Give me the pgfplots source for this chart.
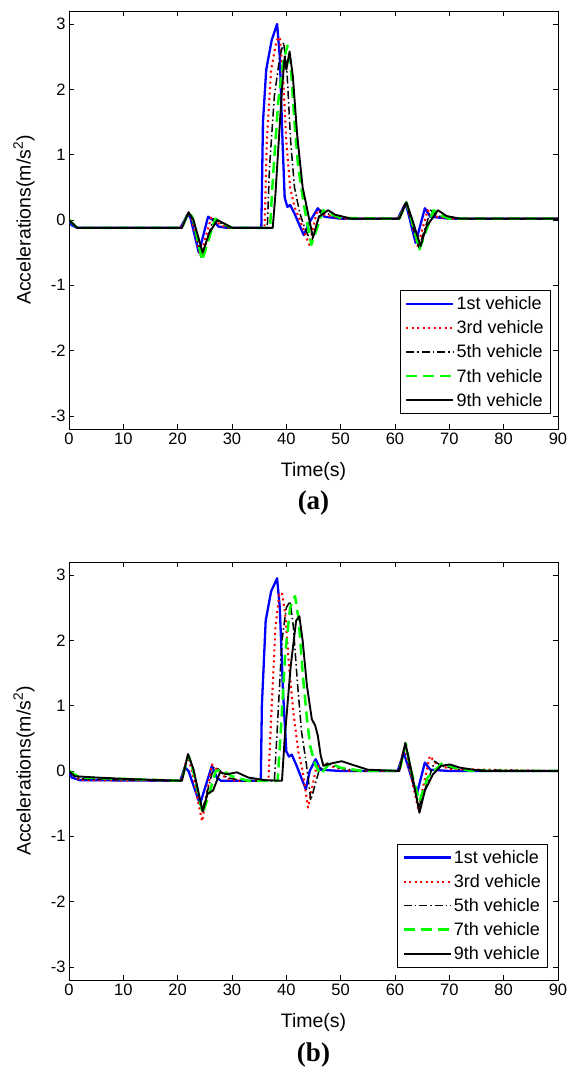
\documentclass[border=0pt]{standalone}
\usepackage{fontspec}
\setmainfont{Liberation Sans}
\newfontfamily\timesbf{Liberation Serif}
\usepackage{pgfplots}
\pgfplotsset{compat=1.18}
\definecolor{mblue}{RGB}{0,0,255}
\definecolor{mred}{RGB}{255,0,0}
\definecolor{mgreen}{RGB}{0,255,0}

\pgfplotsset{
  myax/.style={
    width=489pt, height=418pt, scale only axis,
    xmin=0, xmax=90, ymin=-3.2, ymax=3.2,
    xtick={0,10,...,90}, ytick={-3,-2,-1,0,1,2,3},
    tick align=inside, major tick length=5pt,
    axis line style={line width=0.8pt},
    every tick/.style={black, line width=0.6pt},
    tick label style={font=\fontsize{16.5}{18}\selectfont},
    /pgf/number format/assume math mode=true,
    xlabel={Time(s)}, ylabel={Accelerations(m/s\textsuperscript{2})},
    every axis x label/.style={at={(axis description cs:0.5,-0.1005)}, anchor=center, font=\fontsize{19.5}{22}\selectfont},
    every axis y label/.style={at={(axis description cs:-0.092,0.5)}, rotate=90, anchor=center, font=\fontsize{19.5}{22}\selectfont},
    legend style={draw=black, line width=0.8pt, font=\fontsize{18}{20}\selectfont, anchor=south east, inner xsep=5pt, inner ysep=4pt, row sep=5.5pt},
    legend cell align=left,
    legend image code/.code={\draw[#1] (0pt,0pt) -- (47pt,0pt);},
    line join=round,
  },
  v1/.style={color=mblue, line width=2.3pt, solid},
  v3/.style={color=mred, line width=2.1pt, dash pattern=on 2pt off 3.5pt},
  v5/.style={color=black, line width=1.5pt, dash pattern=on 8pt off 3pt on 1.5pt off 3pt},
  v7/.style={color=mgreen, line width=2.5pt, dash pattern=on 11pt off 6pt},
  v9/.style={color=black, line width=1.9pt, solid},
}

\begin{document}
\begin{tikzpicture}
\useasboundingbox (0,0) rectangle (567pt,1072pt);
% ---------------- (a) ----------------
\begin{axis}[myax, name=top, at={(69pt,643pt)}, anchor=south west,
  legend style={at={(0.986,0.036)}}]
\addplot[v1] coordinates {(0,0) (0.5,-0.08) (1.5,-0.12) (20.5,-0.12) (21.8,0.08) (22.3,0.05) (23.9,-0.5) (25.6,0.05) (26.5,0.0) (27.5,-0.1) (29,-0.12) (35.4,-0.12) (35.7,1.5) (36.3,2.3) (37.3,2.75) (38.3,3.0) (38.8,2.5) (39.3,1.2) (39.7,0.34) (40.2,0.2) (40.7,0.23) (41.5,0.1) (43.2,-0.23) (44.5,0.0) (45.8,0.18) (47,0.05) (50,0.02) (60.5,0.02) (61.9,0.25) (62.3,0.15) (63.8,-0.35) (65.5,0.18) (66.5,0.05) (70,0.02) (90,0.02)};
\addlegendentry{1st vehicle}
\addplot[v3] coordinates {(0,0) (1.5,-0.12) (20.6,-0.12) (21.9,0.1) (22.5,0.05) (24.2,-0.55) (26.2,0.05) (27.5,-0.05) (29,-0.12) (36,-0.12) (36.4,1.2) (37.2,2.3) (38.2,2.75) (38.8,2.8) (39.4,2.2) (40.0,1.2) (40.7,0.5) (41.5,0.2) (42.5,0.0) (44.2,-0.38) (45.7,0.15) (47,0.08) (50,0.02) (60.6,0.02) (62,0.27) (62.6,0.1) (64.2,-0.4) (66,0.15) (67,0.06) (70,0.02) (90,0.02)};
\addlegendentry{3rd vehicle}
\addplot[v5] coordinates {(0,0) (1.5,-0.12) (20.7,-0.12) (22,0.1) (22.7,0.05) (24.4,-0.58) (26.6,0.02) (28,-0.05) (29.5,-0.12) (36.5,-0.12) (36.9,0.8) (37.8,1.9) (38.8,2.5) (39.5,2.72) (40.1,2.3) (40.8,1.2) (41.5,0.5) (42.5,0.1) (43.3,-0.1) (44.6,-0.35) (46.3,0.15) (47.5,0.1) (50,0.02) (60.7,0.02) (62,0.27) (62.8,0.05) (64.4,-0.42) (66.6,0.15) (67.6,0.07) (70,0.02) (90,0.02)};
\addlegendentry{5th vehicle}
\addplot[v7] coordinates {(0,0) (1.5,-0.12) (20.8,-0.12) (22,0.12) (22.8,0.03) (24.5,-0.62) (26.9,0.02) (28.5,-0.06) (30,-0.12) (37,-0.12) (37.5,0.6) (38.5,1.8) (39.4,2.4) (40.2,2.67) (40.8,2.4) (41.5,1.5) (42.2,0.8) (43.3,0.2) (44.6,-0.38) (46.8,0.15) (48,0.1) (50,0.03) (60.8,0.02) (62.1,0.27) (63,0.02) (64.5,-0.45) (67.1,0.15) (68.2,0.08) (70,0.02) (90,0.02)};
\addlegendentry{7th vehicle}
\addplot[v9] coordinates {(0,0) (1.5,-0.12) (20.8,-0.12) (22,0.12) (22.9,0.0) (24.6,-0.5) (25.8,-0.2) (27.3,0.0) (28.5,-0.05) (30,-0.12) (37.5,-0.12) (38,0.4) (39.2,2.0) (39.7,2.5) (40.0,2.3) (40.6,2.58) (41.2,2.2) (42,1.3) (43.0,0.5) (43.8,0.18) (44.9,-0.27) (46.0,0.05) (47.7,0.15) (49,0.08) (52,0.02) (60.8,0.02) (62.1,0.27) (63.2,0.0) (64.7,-0.4) (65.8,-0.1) (67.9,0.15) (69.5,0.06) (72,0.02) (90,0.02)};
\addlegendentry{9th vehicle}
\end{axis}
\path (top.south) ++(0,-74pt) node[font=\fontsize{27}{30}\timesbf\bfseries] {(a)};
% ---------------- (b) ----------------
\begin{axis}[myax, name=bot, at={(69pt,92pt)}, anchor=south west,
  legend style={at={(0.980,0.030)}}]
\addplot[v1] coordinates {(0,0) (0.5,-0.1) (2,-0.14) (20.5,-0.15) (21.3,0.06) (22,0.0) (24.1,-0.51) (26.3,0.08) (27.2,-0.1) (28,-0.15) (35.3,-0.15) (35.5,1.0) (36.2,2.3) (37.2,2.75) (38.3,2.95) (38.8,2.5) (39.4,1.2) (40.0,0.3) (40.5,0.22) (41.0,0.25) (41.8,0.1) (43.6,-0.28) (44.3,0.0) (45.4,0.18) (46.3,0.02) (50,0.0) (60.5,0.0) (61.6,0.28) (62.3,0.1) (64.0,-0.36) (65.5,0.13) (66.5,0.02) (70,0.0) (90,0.0)};
\addlegendentry{1st vehicle}
\addplot[v3] coordinates {(0,0) (2,-0.14) (20.6,-0.15) (21.8,0.22) (22.5,0.05) (24.5,-0.77) (26.3,0.1) (27.5,0.0) (29,-0.12) (31,-0.15) (36.7,-0.15) (37.2,0.8) (38.0,2.2) (38.7,2.7) (39.2,2.73) (39.8,2.4) (40.5,1.6) (41.3,0.9) (42.2,0.3) (43,0.0) (44.0,-0.56) (45.5,0.05) (47,0.12) (49,0.05) (52,0.0) (60.6,0.0) (61.8,0.38) (62.6,0.05) (64.3,-0.59) (66.4,0.23) (67.5,0.12) (70,0.03) (90,0.0)};
\addlegendentry{3rd vehicle}
\addplot[v5] coordinates {(0,0) (2,-0.12) (20.6,-0.15) (21.9,0.24) (22.7,0.05) (24.5,-0.62) (26.6,0.05) (27.5,0.03) (29,-0.1) (32,-0.15) (37.8,-0.15) (38.3,0.6) (39.2,2.0) (40.0,2.5) (40.7,2.6) (41.3,2.2) (42.0,1.4) (42.8,0.6) (43.7,0.1) (44.5,-0.45) (46.0,0.0) (47.5,0.12) (49.5,0.05) (53,0.0) (60.7,0.0) (61.9,0.42) (62.7,0.05) (64.4,-0.55) (67.3,0.15) (68.5,0.08) (72,0.02) (90,0.0)};
\addlegendentry{5th vehicle}
\addplot[v7] coordinates {(0,0) (2,-0.1) (20.7,-0.15) (22,0.24) (22.8,0.03) (24.6,-0.65) (25.8,-0.35) (27.0,0.0) (28,0.02) (30,-0.08) (33,-0.15) (38.4,-0.15) (38.9,0.5) (39.8,1.8) (40.7,2.5) (41.6,2.68) (42.3,2.3) (43.0,1.5) (43.8,0.8) (44.4,0.38) (45.3,0.1) (46.3,-0.05) (48.0,0.12) (50,0.05) (54,0.0) (60.8,0.0) (62.0,0.42) (62.8,0.05) (64.5,-0.46) (66.0,-0.1) (68.8,0.13) (70.5,0.06) (74,0.0) (90,0.0)};
\addlegendentry{7th vehicle}
\addplot[v9] coordinates {(0,0) (1,-0.08) (5,-0.1) (10,-0.12) (20.8,-0.15) (21.9,0.26) (22.9,0.03) (24.6,-0.62) (25.5,-0.35) (26.5,-0.3) (27.8,-0.02) (29,-0.05) (30.9,-0.02) (33,-0.1) (36,-0.14) (39.2,-0.15) (39.7,0.5) (40.8,1.6) (41.8,2.3) (42.4,2.37) (43.0,2.0) (43.8,1.3) (44.7,0.79) (45.3,0.7) (45.8,0.54) (46.3,0.25) (46.8,0.08) (48.5,0.12) (50.2,0.15) (52,0.1) (55,0.02) (60.8,0.0) (61.9,0.43) (62.9,0.05) (64.5,-0.64) (65.5,-0.3) (67,-0.05) (68.5,0.08) (70.1,0.1) (72,0.05) (76,0.0) (90,0.0)};
\addlegendentry{9th vehicle}
\end{axis}
\path (bot.south) ++(0,-75pt) node[font=\fontsize{27}{30}\timesbf\bfseries] {(b)};
\end{tikzpicture}
\end{document}
